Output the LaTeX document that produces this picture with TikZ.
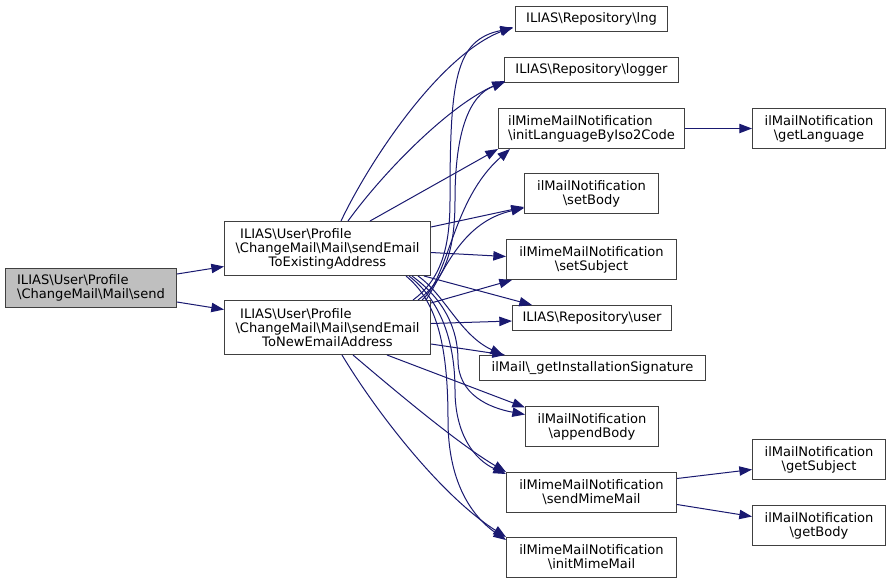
\documentclass[tikz,border=0pt]{standalone}
\usepackage{fontspec}
\setmainfont{DejaVu Sans}
\usetikzlibrary{arrows.meta,calc}
\definecolor{edgec}{HTML}{191970}
\definecolor{boxc}{HTML}{404040}
\definecolor{sendfill}{HTML}{BFBFBF}
\newcommand\myBS{\textbackslash{}}
\begin{document}
\begin{tikzpicture}[x=0.75pt,y=-0.75pt,
  box/.style={draw=boxc, line width=0.75pt, fill=white, inner sep=0pt, align=center,
    font=\fontsize{9.8}{10.5}\selectfont, anchor=north west},
  wh/.style 2 args={minimum width=#1*0.75pt, minimum height=#2*0.75pt},
  edge/.style={draw=edgec, line width=0.75pt, -{Triangle[length=9.5pt,width=7pt]}}]
\fill[white] (0,0) rectangle (891,583);
\useasboundingbox (0,0) rectangle (891,583);

% nodes
\node[box, wh={171}{39}, fill=sendfill, align=left] (send) at (5,268)
  {ILIAS\myBS User\myBS Profile\\\myBS ChangeMail\myBS Mail\myBS send};
\node[box, wh={206}{54}] (E) at (224,221)
  {\rlap{\hspace{3.5pt}ILIAS\myBS User\myBS Profile}\phantom{\myBS ChangeMail\myBS Mail\myBS sendEmail}\\\myBS ChangeMail\myBS Mail\myBS sendEmail\\ToExistingAddress};
\node[box, wh={206}{54}] (N) at (224,300)
  {\rlap{\hspace{3.5pt}ILIAS\myBS User\myBS Profile}\phantom{\myBS ChangeMail\myBS Mail\myBS sendEmail}\\\myBS ChangeMail\myBS Mail\myBS sendEmail\\ToNewEmailAddress};
\node[box, wh={152}{25}] (lng) at (515,6) {ILIAS\myBS Repository\myBS lng};
\node[box, wh={174}{25}] (logger) at (504,57) {ILIAS\myBS Repository\myBS logger};
\node[box, wh={186}{40}, align=left] (initLang) at (498,108) {ilMimeMailNotification\\\myBS initLanguageByIso2Code};
\node[box, wh={134}{40}] (setBody) at (524,173) {ilMailNotification\\\myBS setBody};
\node[box, wh={170}{40}] (setSubject) at (506,239) {ilMimeMailNotification\\\myBS setSubject};
\node[box, wh={159}{25}] (user) at (512,305) {ILIAS\myBS Repository\myBS user};
\node[box, wh={226}{25}] (getInstall) at (479,355) {ilMail\myBS\_getInstallationSignature};
\node[box, wh={133}{40}] (appendBody) at (525,406) {ilMailNotification\\\myBS appendBody};
\node[box, wh={170}{40}] (sendMime) at (506,472) {ilMimeMailNotification\\\myBS sendMimeMail};
\node[box, wh={170}{40}] (initMime) at (506,537) {ilMimeMailNotification\\\myBS initMimeMail};
\node[box, wh={133}{40}] (getLanguage) at (752,108) {ilMailNotification\\\myBS getLanguage};
\node[box, wh={133}{40}] (getSubject) at (752,439) {ilMailNotification\\\myBS getSubject};
\node[box, wh={133}{40}] (getBody) at (752,505) {ilMailNotification\\\myBS getBody};

% edges from send
\draw[edge] ($(send.north east)+(0,6)$) -- ($(E.west)+(0,18)$);
\draw[edge] ($(send.south east)+(0,-6)$) -- ($(N.west)+(0,-18)$);

% edges from E
\draw[edge] ($(E.north west)+(117,0)$) .. controls (370,160) and (440,55) .. ($(lng.south west)+(-2,-5)$);
\draw[edge] ($(E.north west)+(124,0)$) .. controls (385,170) and (450,105) .. ($(logger.south west)+(1,-2)$);
\draw[edge] ($(E.north west)+(146,0)$) -- ($(initLang.south west)+(0,0)$);
\draw[edge] ($(E.north east)+(0,6)$) -- ($(setBody.south west)+(0,-7)$);
\draw[edge] ($(E.east)+(0,4)$) -- ($(setSubject.west)+(0,-3)$);
\draw[edge] ($(E.south east)+(-7,0)$) -- ($(user.north west)+(20,0)$);
\draw[edge] ($(E.south east)+(-13,0)$) .. controls (445,295) and (460,335) .. ($(getInstall.north west)+(24,0)$);
\draw[edge] ($(E.south east)+(-19,0)$) .. controls (445,300) and (458,330) .. (458,360)
  .. controls (458,395) and (490,408) .. ($(appendBody.west)+(0,-12)$);
\draw[edge] ($(E.south east)+(-22,0)$) .. controls (440,300) and (455,340) .. (455,390)
  .. controls (455,435) and (475,460) .. ($(sendMime.north west)+(0,2)$);
\draw[edge] ($(E.south east)+(-25,0)$) .. controls (435,300) and (448,340) .. (448,420)
  .. controls (448,480) and (470,515) .. ($(initMime.north west)+(0,3)$);

% edges from N
\draw[edge] ($(N.north west)+(189,0)$) .. controls (440,280) and (450,250) .. (450,200)
  .. controls (450,80) and (455,40) .. ($(lng.south west)+(-2,-4)$);
\draw[edge] ($(N.north west)+(194,0)$) .. controls (445,280) and (455,250) .. (455,200)
  .. controls (455,130) and (470,95) .. ($(logger.south west)+(1,-1)$);
\draw[edge] ($(N.north west)+(198,0)$) .. controls (450,275) and (452,200) .. ($(initLang.south west)+(12,0)$);
\draw[edge] ($(N.north east)+(-5,0)$) .. controls (445,270) and (462,222) .. ($(setBody.south west)+(0,-6)$);
\draw[edge] ($(N.north east)+(0,3)$) -- ($(setSubject.south west)+(6,0)$);
\draw[edge] ($(N.east)+(0,-4)$) -- ($(user.west)+(0,3)$);
\draw[edge] ($(N.south east)+(0,-11)$) -- ($(getInstall.north west)+(26,0)$);
\draw[edge] ($(N.south west)+(163,0)$) -- ($(appendBody.west)+(0,-19)$);
\draw[edge] ($(N.south west)+(129,0)$) .. controls (400,395) and (460,445) .. ($(sendMime.north west)+(0,0)$);
\draw[edge] ($(N.south west)+(118,0)$) .. controls (375,410) and (440,495) .. ($(initMime.north west)+(0,0)$);

% right side
\draw[edge] (initLang.east) -- (getLanguage.west);
\draw[edge] ($(sendMime.east)+(0,-14)$) -- ($(getSubject.west)+(0,10)$);
\draw[edge] ($(sendMime.east)+(0,12)$) -- ($(getBody.west)+(0,-9)$);
\end{tikzpicture}
\end{document}
